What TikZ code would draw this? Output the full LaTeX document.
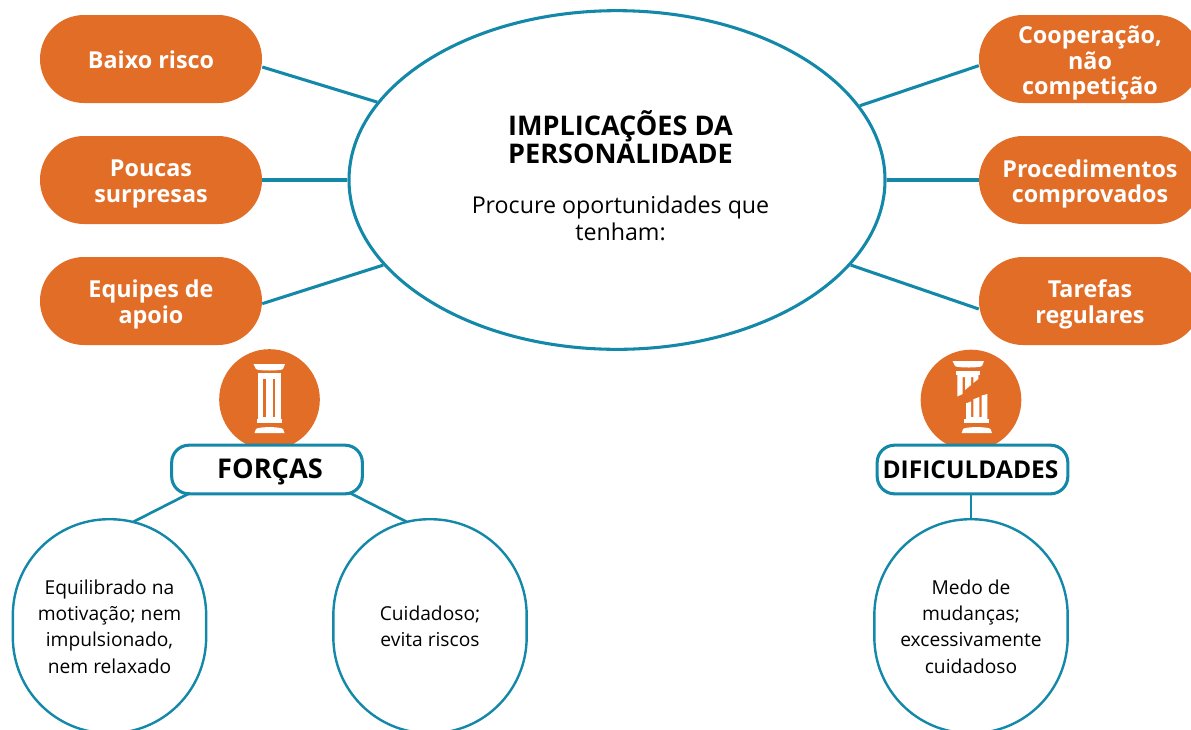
\documentclass[tikz,border=0pt]{standalone}
\usepackage{fontspec}
\usetikzlibrary{shapes.geometric}
\setmainfont{Open Sans}
\definecolor{org}{HTML}{E26D27}
\definecolor{tl}{HTML}{1488A8}
\tikzset{
 x=0.75pt,y=-0.75pt,
 link/.style={draw=tl,line width=2.3pt},
 thinlink/.style={draw=tl,line width=2pt},
 pill/.style={fill=org,minimum width=166.5pt,minimum height=66pt,rounded corners=33pt,inner sep=0pt},
 pilltext/.style={text=white,align=center,inner sep=0pt,font=\fontsize{17.5}{19.2}\selectfont\bfseries},
 head/.style={draw=tl,fill=white,line width=2.3pt,minimum width=143pt,minimum height=36.5pt,rounded corners=13pt,inner sep=0pt,text height=13.5pt,text depth=0pt},
 bubble/.style={draw=tl,fill=white,line width=1.8pt,minimum width=145pt,minimum height=160.5pt,rounded corners=72pt,inner sep=0pt},
 bubtext/.style={align=center,inner sep=0pt,font=\fontsize{14.4}{19.8}\selectfont},
 badge/.style={circle,fill=org,minimum size=75.5pt,inner sep=0pt},
 wh/.style={fill=white,draw=none},
 gr/.style={fill=org,draw=none}
}
\begin{document}
\begin{tikzpicture}
\useasboundingbox (0,0) rectangle (1191,729);
\clip (0,0) rectangle (1191,729);
\node[draw=tl,fill=white,line width=2.3pt,ellipse,minimum width=402pt,minimum height=254pt,inner sep=0pt] (main) at (617,180) {};
\node[font=\fontsize{20.3}{21}\selectfont\bfseries,align=left,inner sep=0pt] (title) at (620.5,137) {IMPLICAÇÕES DA\\PERSONALIDADE};
\node[font=\fontsize{17.4}{20.3}\selectfont,align=center,inner sep=0pt] (sub) at (620.5,218.5) {Procure oportunidades que\\tenham:};
\node[pill] (p1) at (151,59) {};
\node[pill] (p2) at (151,180) {};
\node[pill] (p3) at (151,301) {};
\node[pill] (q1) at (1090,59) {};
\node[pill] (q2) at (1090,180) {};
\node[pill] (q3) at (1090,301) {};
\node[pilltext] (p1t) at (151,60) {Baixo risco};
\node[pilltext] (p2t) at (151,184) {Poucas\\surpresas};
\node[pilltext] (p3t) at (151,304.5) {Equipes de\\apoio};
\node[pilltext] (q1t) at (1090,63) {Cooperação,\\não\\competição};
\node[pilltext] (q2t) at (1090,184) {Procedimentos\\comprovados};
\node[pilltext] (q3t) at (1090,304.5) {Tarefas\\regulares};
\draw[link] ([yshift=-6pt]p1.east) -- (main.162.7);
\draw[link] (p2.east) -- (main.180);
\draw[link] ([yshift=-2pt]p3.east) -- (main.200.1);
\draw[link] ([yshift=-5pt]q1.west) -- (main.17.3);
\draw[link] (q2.west) -- (main.0);
\draw[link] ([yshift=-6pt]q3.west) -- (main.-20.1);
% strengths badge
\node[badge] (b1) at (269.5,399.5) {};
\fill[wh] (253.5,364) -- (285,364) -- (283,369) .. controls (281,371) and (258,371) .. (256,369) -- cycle;
\fill[wh] (257.5,373) rectangle (281,420);
\fill[gr] (263.3,379) rectangle (265.8,417);
\fill[gr] (272.8,379) rectangle (275.3,417);
\fill[wh] (257,418.5) rectangle (282,423);
\fill[wh] (254.5,433) -- (284.5,433) -- (283,429) .. controls (281,426.5) and (258,426.5) .. (256,429) -- cycle;
% difficulties badge
\node[badge] (b2) at (971,400) {};
\fill[wh] (952.5,361) -- (984,361) -- (982,366) .. controls (980,368) and (957,368) .. (955,366) -- cycle;
\fill[wh] (956,370.5) rectangle (980,375);
\fill[wh] (957.3,375) -- (978.3,375) -- (978.3,379) -- (973.3,383) -- (973.3,377) -- (971,377) -- (971,385) -- (965,390) -- (965,377) -- (962.7,377) -- (962.7,394) -- (957.3,396.5) -- cycle;
\fill[wh] (966,403.3) -- (971,401.5) -- (971,417) -- (973.3,417) -- (973.3,399.3) -- (979.3,397) -- (979.3,417) -- (981.7,417) -- (981.7,395.5) -- (987.3,394) -- (987.3,420) -- (966,420) -- cycle;
\fill[wh] (964,419) rectangle (989,423);
\fill[wh] (961.7,433) -- (992,433) -- (990.5,429) .. controls (988.5,426.5) and (965,426.5) .. (963,429) -- cycle;
% headings
\node[head,font=\fontsize{20.4}{22}\selectfont\bfseries] (f) at (267,469.5) {\hspace*{4.5pt}FORÇAS};
\node[head,font=\fontsize{18.4}{22}\selectfont\bfseries,text height=12.8pt] (d) at (972.5,469.5) {DIFICULDADES\hspace*{3pt}};
\node[bubble] (c1) at (109.5,626.2) {};
\node[bubble] (c2) at (430,626.2) {};
\node[bubble] (c3) at (971,626.2) {};
\coordinate (c1top) at (133,522);
\coordinate (c2top) at (407,522);
\coordinate (f1) at (190,493);
\coordinate (f2) at (350,493);
\node[bubtext] (t1) at (109.5,626.5) {Equilibrado na\\motivação; nem\\impulsionado,\\nem relaxado};
\node[bubtext] (t2) at (430,626) {Cuidadoso;\\evita riscos};
\node[bubtext] (t3) at (971,626.5) {Medo de\\mudanças;\\excessivamente\\cuidadoso};
\draw[thinlink] (f1) -- (c1top);
\draw[thinlink] (f2) -- (c2top);
\draw[thinlink] (c3.north) -- (c3.north |- d.south);
\end{tikzpicture}
\end{document}
